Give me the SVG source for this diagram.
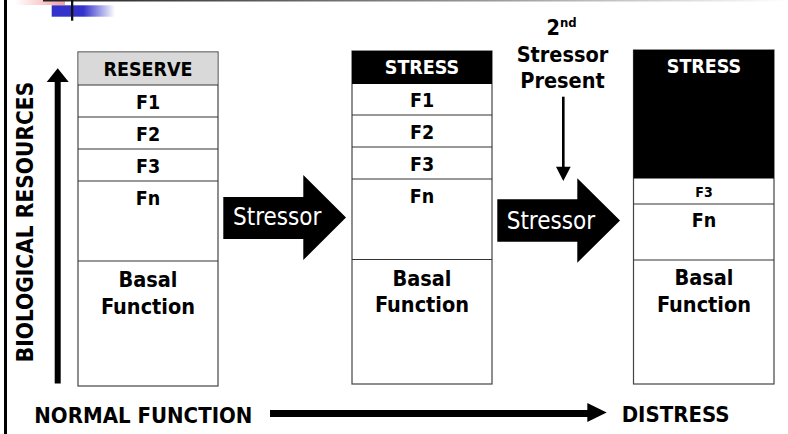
<svg xmlns="http://www.w3.org/2000/svg" width="788" height="434" viewBox="0 0 788 434">
<defs>
<linearGradient id="pink" x1="0" y1="0" x2="1" y2="0"><stop offset="0" stop-color="#ffffff"/><stop offset="1" stop-color="#f4a0a0"/></linearGradient>
<linearGradient id="blue" x1="0" y1="0" x2="1" y2="0"><stop offset="0" stop-color="#3333cc"/><stop offset="0.5" stop-color="#3333cc"/><stop offset="1" stop-color="#ffffff"/></linearGradient>
<linearGradient id="topline" x1="0" y1="0" x2="1" y2="0"><stop offset="0" stop-color="#222222"/><stop offset="0.6" stop-color="#999999"/><stop offset="1" stop-color="#ffffff"/></linearGradient>
</defs>
<style>
text{font-family:"DejaVu Sans Condensed","DejaVu Sans",sans-serif;font-stretch:condensed;fill:#000}
.b{font-weight:bold}
.c{text-anchor:middle}
.cell{fill:#fff;stroke:#444;stroke-width:1.2}
.sep{stroke:#333;stroke-width:1.2}
.w{fill:#fff}
</style>
<rect width="788" height="434" fill="#fff"/>
<!-- decoration -->
<rect x="15" y="0" width="50" height="5" fill="url(#pink)"/>
<rect x="43" y="0" width="745" height="1.5" fill="url(#topline)"/>
<rect x="51.7" y="5.3" width="63.3" height="11.4" fill="url(#blue)"/>
<rect x="71" y="0" width="2.3" height="20.7" fill="#111"/>
<rect x="4" y="0" width="3" height="434" fill="#000"/>

<g id="axis-label">
<text class="b" font-size="22.5" transform="translate(33,222) rotate(-90)" text-anchor="middle">BIOLOGICAL RESOURCES</text>
</g>

<g id="col-normal">
<rect class="cell" x="78" y="52" width="140" height="334"/>
<rect x="78.6" y="52.6" width="138.8" height="32.1" fill="#d9d9d9"/>
<line class="sep" x1="78" y1="85" x2="218" y2="85"/>
<line class="sep" x1="78" y1="117" x2="218" y2="117"/>
<line class="sep" x1="78" y1="149" x2="218" y2="149"/>
<line class="sep" x1="78" y1="181" x2="218" y2="181"/>
<line class="sep" x1="78" y1="261" x2="218" y2="261"/>
<text class="b c" x="148" y="76" font-size="19.5">RESERVE</text>
<text class="b c" x="148" y="109" font-size="19.5">F1</text>
<text class="b c" x="148" y="141" font-size="19.5">F2</text>
<text class="b c" x="148" y="173" font-size="19.5">F3</text>
<text class="b c" x="148" y="205" font-size="19.5">Fn</text>
<text class="b c" x="148" y="287" font-size="21.5">Basal</text>
<text class="b c" x="148" y="314" font-size="21.5">Function</text>
</g>

<g id="col-stress">
<rect class="cell" x="352" y="51" width="140" height="333"/>
<rect x="352" y="51" width="140" height="33" fill="#000"/>
<line class="sep" x1="352" y1="115" x2="492" y2="115"/>
<line class="sep" x1="352" y1="147" x2="492" y2="147"/>
<line class="sep" x1="352" y1="179" x2="492" y2="179"/>
<line class="sep" x1="352" y1="259.5" x2="492" y2="259.5"/>
<text class="b c w" x="422" y="74" font-size="19.5">STRESS</text>
<text class="b c" x="422" y="107" font-size="19.5">F1</text>
<text class="b c" x="422" y="139" font-size="19.5">F2</text>
<text class="b c" x="422" y="171" font-size="19.5">F3</text>
<text class="b c" x="422" y="203" font-size="19.5">Fn</text>
<text class="b c" x="422" y="286" font-size="21.5">Basal</text>
<text class="b c" x="422" y="312" font-size="21.5">Function</text>
</g>

<g id="col-distress">
<rect class="cell" x="633.5" y="50" width="140.5" height="334"/>
<rect x="633.5" y="50" width="140.5" height="128.5" fill="#000"/>
<line class="sep" x1="633.5" y1="204" x2="774" y2="204"/>
<line class="sep" x1="633.5" y1="260" x2="774" y2="260"/>
<text class="b c w" x="704" y="73" font-size="19.5">STRESS</text>
<text class="b c" x="704" y="197" font-size="14">F3</text>
<text class="b c" x="704" y="227" font-size="19.5">Fn</text>
<text class="b c" x="704" y="285" font-size="21.5">Basal</text>
<text class="b c" x="704" y="312" font-size="21.5">Function</text>
</g>

<g id="second-stressor">
<text class="b c" x="562.5" y="62" font-size="21.5">Stressor</text>
<text class="b c" x="562.5" y="87.5" font-size="21.5">Present</text>
<text class="b" x="546.5" y="35" font-size="21.5">2<tspan font-size="13" dy="-8">nd</tspan></text>
</g>

<g id="connectors">
<polygon points="223.3,197 303.3,197 303.3,175 346,217.5 303.3,260 303.3,239 223.3,239" fill="#000"/>
<text class="w" x="233" y="225" font-size="24">Stressor</text>
<polygon points="497.3,199.3 577.3,199.3 577.3,178.3 620,220.5 577.3,262.7 577.3,241.7 497.3,241.7" fill="#000"/>
<text class="w" x="506.7" y="229" font-size="24">Stressor</text>
<rect x="54.7" y="80" width="6" height="303.5" fill="#000"/>
<polygon points="57.7,68.3 68.7,82 46.7,82" fill="#000"/>
<rect x="562" y="96.7" width="2.6" height="71" fill="#000"/>
<polygon points="556,166.7 570.7,166.7 563.3,181" fill="#000"/>
<rect x="270" y="410" width="318" height="7" fill="#000"/>
<polygon points="587.3,403 606.7,412.5 587.3,422" fill="#000"/>
</g>

<g id="bottom-labels">
<text class="b" x="34.3" y="422.7" font-size="22">NORMAL FUNCTION</text>
<text class="b" x="621.7" y="421.7" font-size="22">DISTRESS</text>
</g>
</svg>
